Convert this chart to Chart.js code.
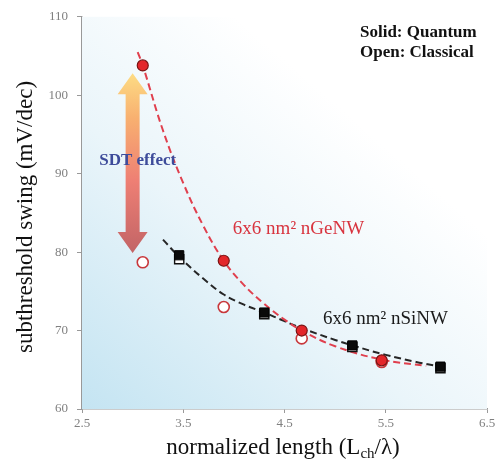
<!DOCTYPE html>
<html>
<head>
<meta charset="utf-8">
<script src="https://cdn.jsdelivr.net/npm/chart.js@4.4.0/dist/chart.umd.min.js"></script>
<style>
  html, body { margin: 0; padding: 0; background: #fff; }
  #wrap { width: 500px; height: 467px; position: relative; }
</style>
</head>
<body>
<div id="wrap"><canvas id="ssChart"></canvas></div>
<script>
// values
const geLen = [3.1, 3.9, 4.67, 5.46];
const geQuantum = [103.8, 78.9, 70.0, 66.2];
const geClassical = [78.7, 73.0, 69.0, 66.0];

const siLen = [3.46, 4.3, 5.17, 6.04];
const siQuantum = [79.6, 72.3, 68.1, 65.4];
const siClassical = [79.1, 72.1, 67.9, 65.2];

// dashed trend curves
const geFitX = [3.05, 3.1, 3.3, 3.5, 3.7, 3.9, 4.1, 4.3, 4.5, 4.67, 5.0, 5.46, 5.9];
const geFitY = [105.5, 103.8, 95.5, 88.8, 83.3, 78.9, 75.8, 73.4, 71.4, 70.0, 68.0, 66.3, 65.5];
const siFitX = [3.3, 3.46, 3.7, 3.9, 4.1, 4.3, 4.5, 4.67, 5.0, 5.17, 5.5, 5.8, 6.0];
const siFitY = [81.6, 79.4, 76.6, 74.6, 73.3, 72.3, 71.2, 70.3, 68.8, 68.1, 66.9, 66.0, 65.5];

const xMin = 2.5, xMax = 6.5, xStep = 1;
const yMin = 60, yMax = 110, yStep = 10;

const toPts = (xs, ys) => xs.map((x, i) => ({ x: x, y: ys[i] }));

const serif = '"Liberation Serif", "DejaVu Serif", serif';

const decorPlugin = {
  id: 'decor',
  beforeDatasetsDraw(chart) {
    const { ctx, chartArea: a, scales: { x, y } } = chart;
    // light blue wash from the lower left corner
    const g = ctx.createLinearGradient(a.left, a.bottom, a.left + 260, a.bottom - 300);
    g.addColorStop(0, 'rgba(196,228,242,1)');
    g.addColorStop(0.55, 'rgba(234,245,250,1)');
    g.addColorStop(1, 'rgba(255,255,255,1)');
    ctx.save();
    ctx.fillStyle = g;
    ctx.fillRect(a.left, a.top, a.right - a.left, a.bottom - a.top);

    // double headed arrow
    const cx = x.getPixelForValue(3.0);
    const top = y.getPixelForValue(102.8);
    const bot = y.getPixelForValue(79.9);
    const hw = 15, sw = 7, hh = 21;
    const ag = ctx.createLinearGradient(0, top, 0, bot);
    ag.addColorStop(0, '#fddc84');
    ag.addColorStop(0.25, '#f8b070');
    ag.addColorStop(0.6, '#ee7f74');
    ag.addColorStop(1, '#c26466');
    ctx.fillStyle = ag;
    ctx.beginPath();
    ctx.moveTo(cx, top);
    ctx.lineTo(cx + hw, top + hh);
    ctx.lineTo(cx + sw, top + hh);
    ctx.lineTo(cx + sw, bot - hh);
    ctx.lineTo(cx + hw, bot - hh);
    ctx.lineTo(cx, bot);
    ctx.lineTo(cx - hw, bot - hh);
    ctx.lineTo(cx - sw, bot - hh);
    ctx.lineTo(cx - sw, top + hh);
    ctx.lineTo(cx - hw, top + hh);
    ctx.closePath();
    ctx.fill();
    ctx.restore();
  },
  afterDraw(chart) {
    const { ctx, chartArea: a, scales: { x, y } } = chart;
    ctx.save();
    ctx.textBaseline = 'middle';

    // annotations
    ctx.font = 'bold 17px ' + serif;
    ctx.fillStyle = '#3d4b9a';
    ctx.textAlign = 'center';
    ctx.fillText('SDT effect', x.getPixelForValue(3.05), y.getPixelForValue(91.7));

    ctx.textAlign = 'left';
    ctx.font = '19px ' + serif;
    ctx.fillStyle = '#d8343f';
    ctx.fillText('6x6 nm\u00b2 nGeNW', x.getPixelForValue(3.99), y.getPixelForValue(83.0));
    ctx.fillStyle = '#1a1a1a';
    ctx.fillText('6x6 nm\u00b2 nSiNW', x.getPixelForValue(4.88), y.getPixelForValue(71.5));

    ctx.font = 'bold 17px ' + serif;
    ctx.fillStyle = '#111';
    ctx.fillText('Solid: Quantum', 360, 33);
    ctx.fillText('Open: Classical', 360, 53);

    // axis titles
    ctx.fillStyle = '#111';
    ctx.font = '23px ' + serif;
    ctx.save();
    ctx.translate(26, 217);
    ctx.rotate(-Math.PI / 2);
    ctx.textAlign = 'center';
    ctx.fillText('subthreshold swing (mV/dec)', 0, 0);
    ctx.restore();

    const p1 = 'normalized length (L', p2 = 'ch', p3 = '/\u03bb)';
    ctx.font = '23px ' + serif;
    const w1 = ctx.measureText(p1).width, w3 = ctx.measureText(p3).width;
    ctx.font = '15px ' + serif;
    const w2 = ctx.measureText(p2).width;
    let sx = 283 - (w1 + w2 + w3) / 2;
    const by = 448;
    ctx.textAlign = 'left';
    ctx.font = '23px ' + serif;
    ctx.fillText(p1, sx, by);
    sx += w1;
    ctx.font = '15px ' + serif;
    ctx.fillText(p2, sx, by + 6);
    sx += w2;
    ctx.font = '23px ' + serif;
    ctx.fillText(p3, sx, by);
    ctx.restore();
  }
};

const ctx = document.getElementById('ssChart').getContext('2d');
const ssChart = new Chart(ctx, {
  type: 'line',
  data: {
    datasets: [
      {
        label: 'nGeNW quantum', data: toPts(geLen, geQuantum), order: 0,
        showLine: false, pointStyle: 'circle', pointRadius: 5.5,
        backgroundColor: '#e3262a', borderColor: '#7a1414', borderWidth: 1.2
      },
      {
        label: 'nSiNW quantum', data: toPts(siLen, siQuantum), order: 1,
        showLine: false, pointStyle: 'rect', pointRadius: 6.5,
        backgroundColor: '#0a0a0a', borderColor: '#000', borderWidth: 1
      },
      {
        label: 'nGeNW classical', data: toPts(geLen, geClassical), order: 2,
        showLine: false, pointStyle: 'circle', pointRadius: 5.5,
        backgroundColor: '#fff', borderColor: '#c8383c', borderWidth: 1.6
      },
      {
        label: 'nSiNW classical', data: toPts(siLen, siClassical), order: 3,
        showLine: false, pointStyle: 'rect', pointRadius: 6.5,
        backgroundColor: '#fff', borderColor: '#111', borderWidth: 1.4
      },
      {
        label: 'nGeNW fit', data: toPts(geFitX, geFitY), order: 4,
        borderColor: '#e0404e', borderWidth: 2, borderDash: [7, 4],
        pointRadius: 0, tension: 0.4, fill: false
      },
      {
        label: 'nSiNW fit', data: toPts(siFitX, siFitY), order: 5,
        borderColor: '#262626', borderWidth: 2, borderDash: [7, 4],
        pointRadius: 0, tension: 0.4, fill: false
      }
    ]
  },
  options: {
    responsive: true,
    maintainAspectRatio: false,
    animation: false,
    layout: { padding: { top: 15, right: 13, left: 0, bottom: 0 } },
    plugins: { legend: { display: false }, tooltip: { enabled: false } },
    scales: {
      x: {
        type: 'linear', min: xMin, max: xMax,
        afterFit: s => { s.height = 467 - 409; },
        ticks: { stepSize: xStep, color: '#808080', padding: 3, font: { family: serif, size: 13 } },
        grid: { drawOnChartArea: false, drawTicks: true, tickLength: 4, color: '#999' },
        border: { color: '#999', width: 1.5 }
      },
      y: {
        type: 'linear', min: yMin, max: yMax,
        afterFit: s => { s.width = 82; },
        ticks: { stepSize: yStep, color: '#808080', padding: 9, font: { family: serif, size: 13 } },
        grid: { drawOnChartArea: false, drawTicks: true, tickLength: 5, color: '#999' },
        border: { color: '#999', width: 1.5 }
      }
    }
  },
  plugins: [decorPlugin]
});
</script>
</body>
</html>
